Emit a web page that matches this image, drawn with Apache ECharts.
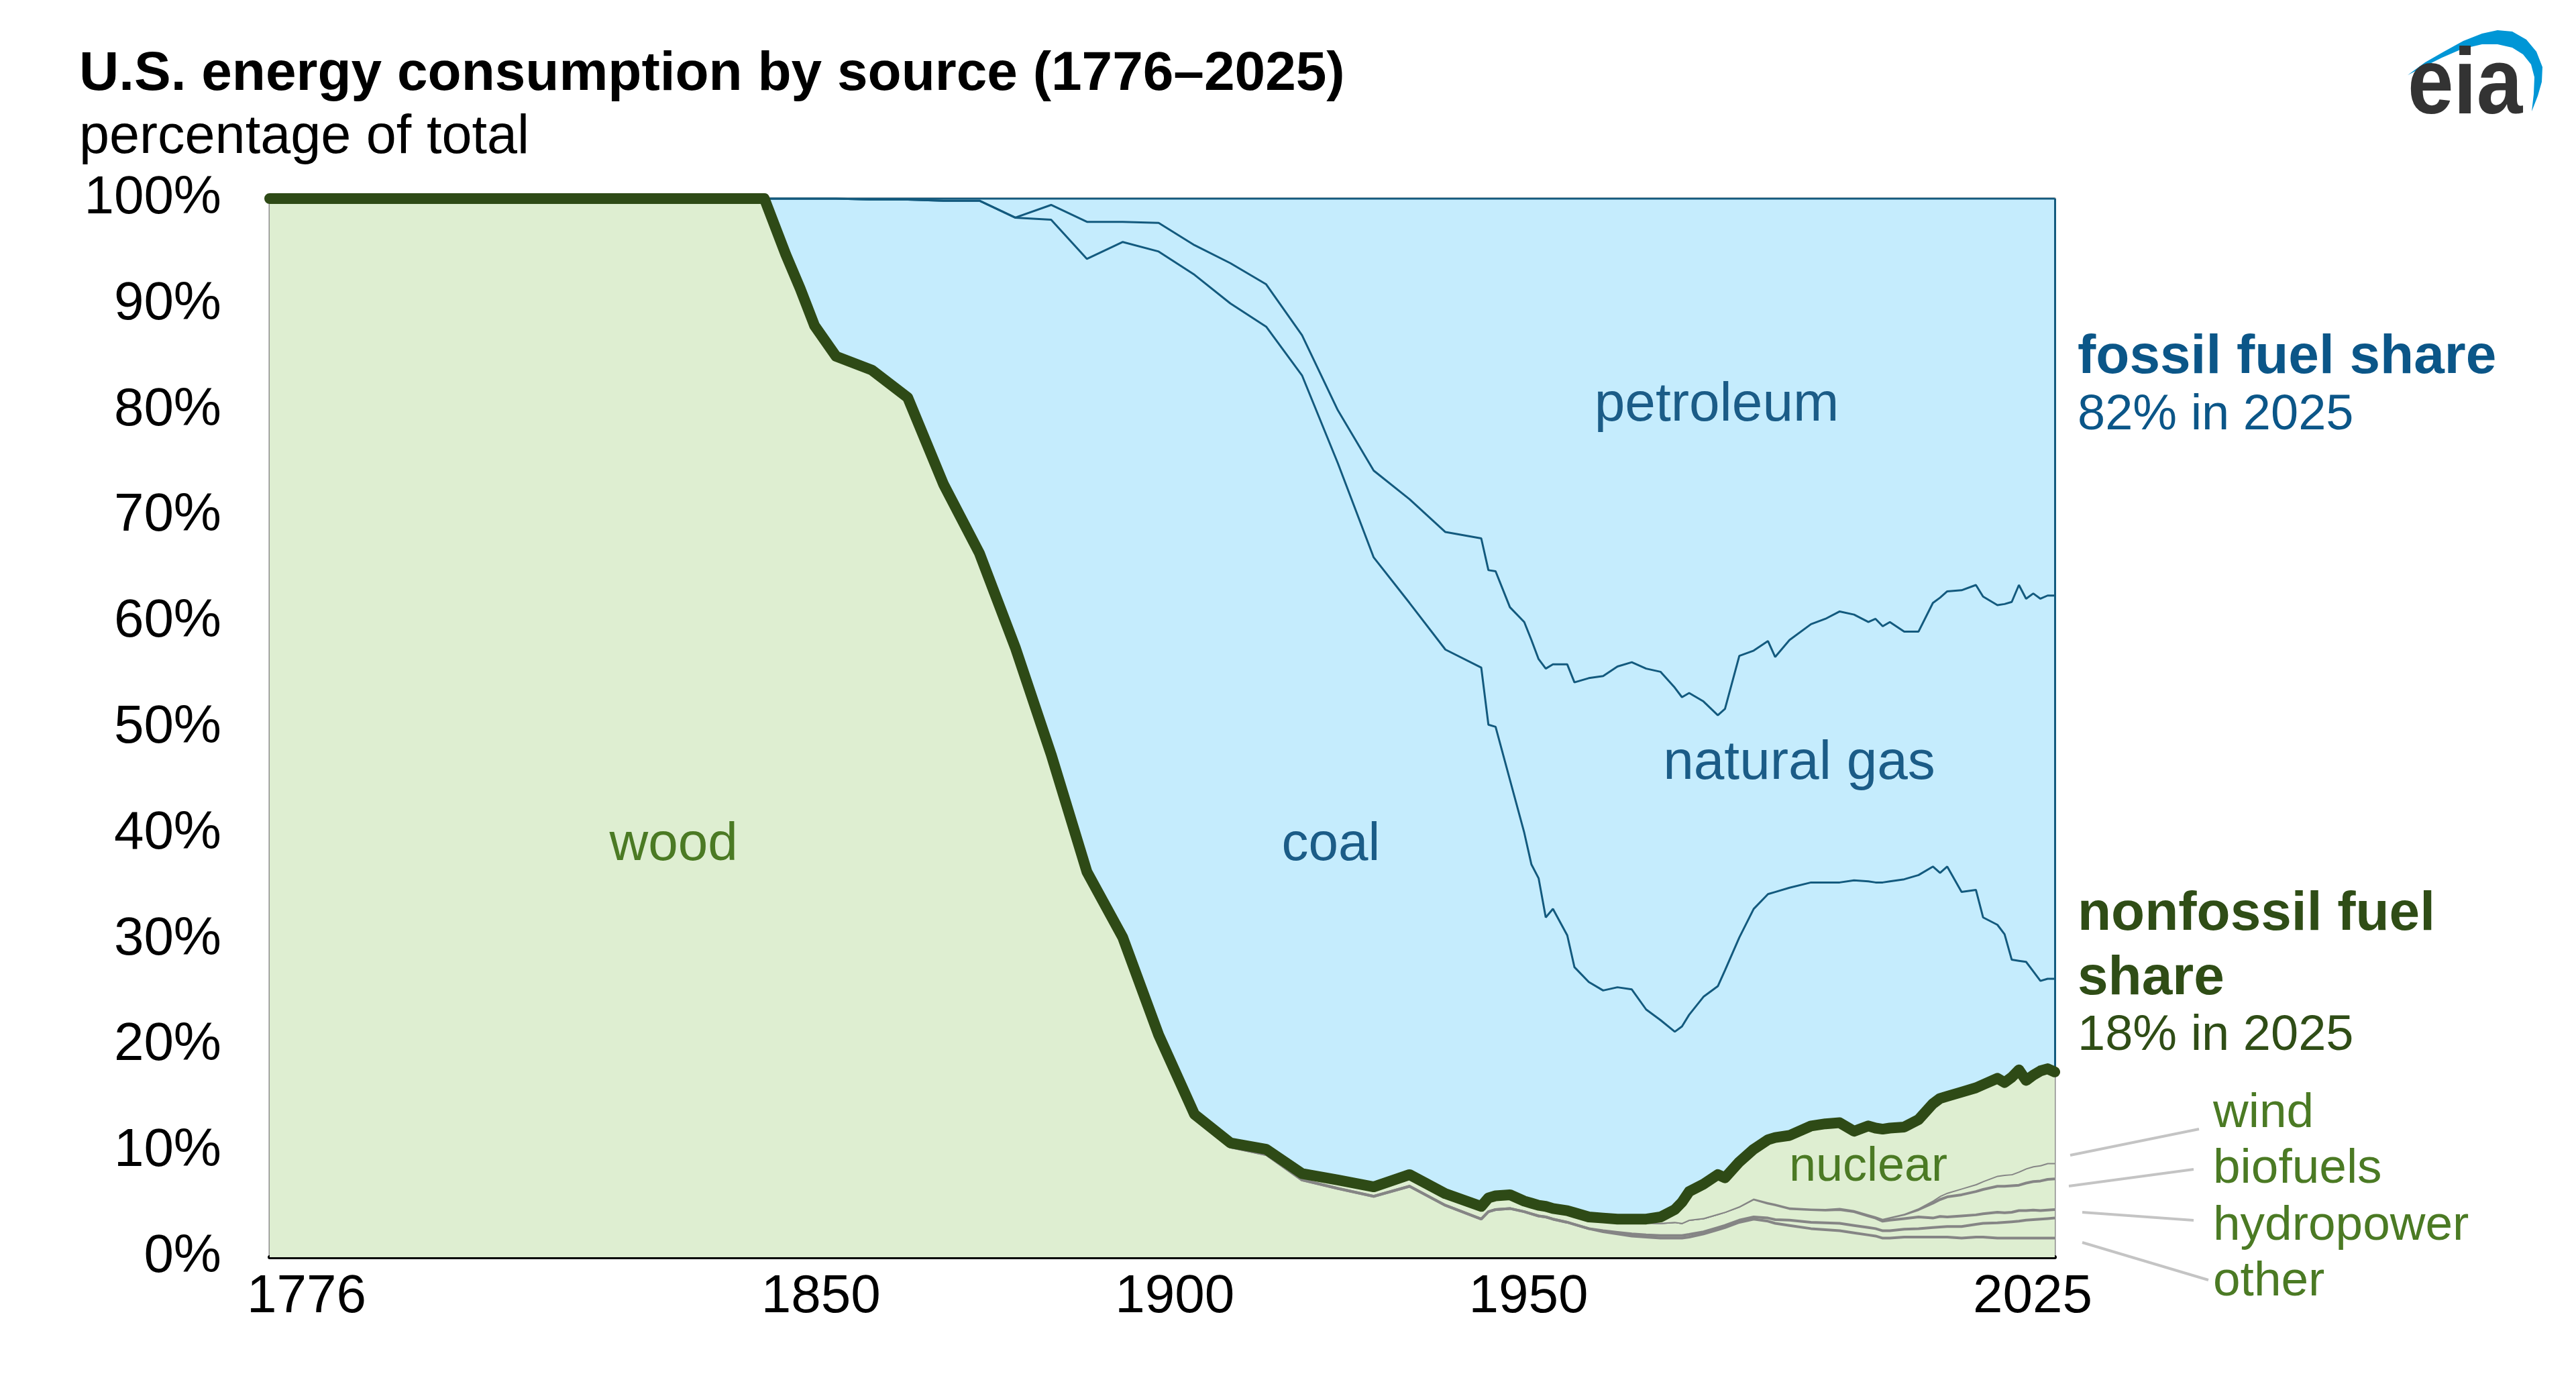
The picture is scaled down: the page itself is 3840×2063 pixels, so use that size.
<!DOCTYPE html>
<html><head><meta charset="utf-8">
<script src="https://cdn.jsdelivr.net/npm/echarts@6/dist/echarts.min.js"></script>
<style>html,body{margin:0;padding:0;background:#fff}#c{width:3840px;height:2063px}</style>
</head><body><div id="c"></div>
<script>
// ---- data (percent of total U.S. primary energy consumption) ----
const YEARS = [1776,1845,1848,1850,1852,1855,1860,1865,1870,1875,1880,1885,1890,1895,1900,1905,1910,1915,1920,1925,1930,1935,1940,1945,1946,1947,1949,1951,1952,1953,1954,1955,1957,1958,1960,1962,1964,1966,1968,1970,1972,1973,1974,1976,1978,1979,1981,1983,1985,1986,1988,1991,1993,1995,1997,1999,2000,2001,2002,2004,2006,2008,2009,2010,2012,2014,2015,2017,2018,2019,2020,2021,2022,2023,2024,2025];
const WOOD = [100,100,94.7,91.5,88,85.1, 83.8,81.2,73,66.5,57.6,47.5,36.4,30.1,20.8,13.2,10.4,9.7,7.3,6.5,5.75,6.7,4.9,3.6, 4.3,4.5,4.6, 4.3,4.1,3.9,3.8,3.6, 3.3,3.1, 2.7,2.4,2.2,2.0,1.9,1.8, 1.8,1.8,1.9, 2.2,2.6,2.8, 3.3,3.6,3.4,3.2,3.0, 2.7,2.6,2.5,2.3,2.1, 2.0,1.8,1.8,1.9,1.9, 1.9,1.9,1.9,1.8,1.9,1.9, 1.8,1.8,1.8,1.8,1.8,1.8,1.8,1.8,1.8];
const OTHER = [0,0,0,0,0,0, 0,0,0,0,0,0,0,0,0,0,0,0,0,0,0,0,0,0, 0,0,0, 0,0,0,0,0, 0,0, 0,0.1,0.15,0.2,0.2,0.25, 0.25,0.25,0.25, 0.2,0.2,0.2, 0.2,0.2,0.3,0.35,0.5, 0.6,0.65,0.7,0.7,0.7, 0.7,0.7,0.7,0.75,0.8, 0.9,0.95,1.0,1.1,1.2,1.3, 1.45,1.5,1.55,1.6,1.7,1.75,1.8,1.85,1.9];
const HYDRO = [0,0,0,0,0,0, 0,0,0,0,0,0,0,0.1,0.2,0.3,0.4,0.5,0.6,0.8,0.9,1.1,1.1,1.2, 1.3,1.3,1.3, 1.0,1.0,1.0,1.0,1.0, 1.1,1.1, 1.05,1.1,1.1,1.2,1.2,1.2, 1.3,1.2,1.4, 1.3,1.3,1.3, 1.3,1.7,1.4,1.4,1.1, 1.2,1.2,1.3,1.3,1.1, 1.0,0.9,1.0,1.0,1.1, 0.9,1.0,0.9,1.0,0.9,0.9, 1.0,0.9,0.9,1.0,0.9,0.9,0.8,0.8,0.8];
const BIOFUELS = [0,0,0,0,0,0, 0,0,0,0,0,0,0,0,0,0,0,0,0,0,0,0,0,0, 0,0,0, 0,0,0,0,0, 0,0, 0,0,0,0,0,0, 0,0,0, 0,0,0, 0.02,0.05,0.1,0.1,0.1, 0.1,0.12,0.15,0.15,0.15, 0.15,0.2,0.25,0.4,0.7, 1.4,1.6,1.9,2.0,2.2,2.3, 2.45,2.5,2.5,2.4,2.6,2.7,2.8,2.9,2.9];
const WIND = [0,0,0,0,0,0, 0,0,0,0,0,0,0,0,0,0,0,0,0,0,0,0,0,0, 0,0,0, 0,0,0,0,0, 0,0, 0,0,0,0,0,0, 0,0,0, 0,0,0, 0,0,0,0,0, 0,0,0,0,0, 0.02,0.03,0.04,0.06,0.12, 0.25,0.35,0.4,0.6,0.7,0.8, 1.0,1.1,1.1,1.3,1.4,1.45,1.5,1.55,1.5];
const NUCLEAR = [0,0,0,0,0,0, 0,0,0,0,0,0,0,0,0,0,0,0,0,0,0,0,0,0, 0,0,0, 0,0,0,0,0, 0,0, 0.05,0.1,0.15,0.2,0.3,0.55, 1.15,1.95,2.65, 3.2,3.7,3.2, 4.18,4.65,5.9,6.25,6.8, 7.8,8.03,8.05,7.45,8.35, 8.33,8.47,8.41,8.19,8.38, 9.15,9.2,9.1,9.1,9.1,9.1, 9.2,8.7,9.15,9.6,8.3,8.6,8.9,8.9,8.6];
const COAL = [0,0,5.3,8.5,12,14.9, 16.1,18.7,26.8,33.3,40.6,50.5,57.9,65.7,74,79.3,79.3,77.7,75.4,67.7,59.45,54.0,51.4,50.9, 44.7,44.3,39.2, 34.8,32.0,30.9,27.3,28.3, 26.0,23.2, 22.2,21.5,21.9,21.7,19.8,18.6, 16.8,16.6,16.7, 17.7,17.8,19.6, 21.2,22.7,23.2,23.2,23.4, 23.0,22.8,22.7,23.7,23.1, 23.2,23.3,23.3,23.4,23.1, 22.4,21.3,21.7,18.9,18.7,15.8, 14.5,14.0,11.1,10.3,11.2,9.8,8.5,8.5,8.8];
const NATURAL_GAS = [0,0,0,0,0,0, 0,0,0,0,0,1.4,3.5,1.9,2.7,2.8,3.8,4.0,3.8,5.0,8.2,9.8,11.1,12.2, 14.6,14.7,16.3, 19.9,21.2,20.7,23.5,23.1, 25.6,26.9, 28.7,29.7,30.3,30.9,32.2,32.9, 32.5,31.1,30.4, 27.9,25.6,24.7, 26.6,24.4,23.9,22.2,23.4, 24.4,24.9,25.6,25.1,24.5, 24.9,24.2,24.5,23.4,23.0, 24.9,26.0,26.0,28.5,28.8,30.3, 30.2,31.2,33.8,35.5,34.3,35.7,36.1,36.2,36.2];
const PETROLEUM = [0,0,0,0,0,0, 0.1,0.1,0.2,0.2,1.8,0.6,2.2,2.2,2.3,4.4,6.1,8.1,12.9,20,25.7,28.4,31.5,32.1, 35.1,35.2,38.6, 40,41.7,43.5,44.4,44, 44,45.7, 45.3,45.1,44.2,43.8,44.4,44.7, 46.2,47.1,46.7, 47.5,48.8,48.2, 43.2,42.7,41.8,43.3,41.7, 40.2,39.7,39.0,39.3,40.0, 39.7,40.4,40.0,40.9,40.9, 38.2,37.7,37.1,37.0,36.5,37.6, 38.4,38.3,38.1,36.5,37.8,37.3,37.8,37.5,37.5];
const X_TICKS = [1776, 1850, 1900, 1950, 2025];
const Y_MIN = 0, Y_MAX = 100, Y_STEP = 10;

// ---- chart ----
const FONT = '"Liberation Sans", Arial, Helvetica, sans-serif';
const GREEN_FILL = '#deeed1', BLUE_FILL = '#c5ecfd', GRAY = '#858585', DKGREEN = '#2e4a16', DKBLUE = '#135a7e';
const TXT_BLUE = '#1b5c87', TXT_GREEN = '#4b7a24', HEAD_BLUE = '#0b5688', HEAD_GREEN = '#2f4d16';
// value first, year second: the share dimension is the one that gets stacked
const pairs = arr => YEARS.map((y, i) => [arr[i], y]);
const last = YEARS.length - 1;
const nfLast = WOOD[last] + OTHER[last] + HYDRO[last] + BIOFUELS[last] + WIND[last] + NUCLEAR[last];

function areaSeries(name, arr, fill, line, z, extra) {
  return Object.assign({
    type: 'line', name, stack: 'total', data: pairs(arr),
    dimensions: ['share', 'year'], encode: { x: 1, y: 0 },
    showSymbol: false, symbol: 'none',
    areaStyle: { color: fill, opacity: 1 }, lineStyle: Object.assign({}, line), z, silent: true, animation: false
  }, extra || {});
}
const grayLine = { color: GRAY, width: 4 };
const blueLine = { color: DKBLUE, width: 3 };

// label shift (px) to reproduce reference label placement
const X_SHIFT = { 1776: 55, 1850: 31, 1900: 24, 1950: 17, 2025: -33 };
const rich = {};
X_TICKS.forEach(v => {
  const s = X_SHIFT[v] || 0;
  rich['t' + v] = { fontSize: 80, fontFamily: FONT, color: '#000',
    padding: s >= 0 ? [0, 0, 0, 2 * s] : [0, -2 * s, 0, 0] };
});

function txt(text, x, y, size, color, weight, align) {
  return { type: 'text', x, y, silent: true, z: 100,
    style: { text, fontSize: size, fontFamily: FONT, fontWeight: weight || 'normal', fill: color,
      align: align || 'left', verticalAlign: 'middle', textAlign: align || 'left', textVerticalAlign: 'middle' } };
}
function lead(x1, y1, x2, y2) {
  return { type: 'line', silent: true, z: 100, shape: { x1, y1, x2, y2 }, style: { stroke: '#c4c4c4', lineWidth: 4 } };
}

const option = {
  backgroundColor: '#fff',
  animation: false,
  grid: { left: 402, right: 777, top: 296, bottom: 189, show: true, borderColor: '#8c8c8c', borderWidth: 3, backgroundColor: 'transparent' },
  xAxis: {
    type: 'value', min: 1776, max: 2025,
    axisLine: { show: true, onZero: false, lineStyle: { color: '#000', width: 6 } },
    axisTick: { show: false },
    splitLine: { show: false },
    axisLabel: {
      customValues: X_TICKS, showMinLabel: true, showMaxLabel: true, margin: 20,
      fontSize: 80, fontFamily: FONT, color: '#000',
      formatter: v => '{t' + v + '|' + v + '}', rich
    }
  },
  yAxis: {
    type: 'value', min: Y_MIN, max: Y_MAX, interval: Y_STEP,
    axisLine: { show: false }, axisTick: { show: false }, splitLine: { show: false },
    axisLabel: { formatter: '{value}%', fontSize: 80, fontFamily: FONT, color: '#000', margin: 72 }
  },
  series: [
    areaSeries('wood', WOOD, GREEN_FILL, grayLine, 2),
    areaSeries('other', OTHER, GREEN_FILL, grayLine, 2),
    areaSeries('hydropower', HYDRO, GREEN_FILL, grayLine, 2),
    areaSeries('biofuels', BIOFUELS, GREEN_FILL, grayLine, 2),
    areaSeries('wind', WIND, GREEN_FILL, grayLine, 2),
    areaSeries('nuclear', NUCLEAR, GREEN_FILL, { color: DKGREEN, width: 16, join: 'round', cap: 'round' }, 6),
    areaSeries('coal', COAL, BLUE_FILL, blueLine, 3),
    areaSeries('natural gas', NATURAL_GAS, BLUE_FILL, blueLine, 3),
    areaSeries('petroleum', PETROLEUM, BLUE_FILL, blueLine, 3, {
      markLine: { silent: true, symbol: 'none', label: { show: false },
        lineStyle: { color: DKBLUE, width: 3, type: 'solid' },
        data: [[{ coord: [YEARS[last], 100] }, { coord: [YEARS[last], nfLast] }]] }
    })
  ],
  graphic: [
    txt('U.S. energy consumption by source (1776\u20132025)', 118, 111, 82, '#000', 'bold'),
    txt('percentage of total', 118, 206, 81, '#000'),
    txt('wood', 1004, 1260, 80, TXT_GREEN, 'normal', 'center'),
    txt('coal', 1984, 1260, 80, TXT_BLUE, 'normal', 'center'),
    txt('petroleum', 2559, 604, 82, TXT_BLUE, 'normal', 'center'),
    txt('natural gas', 2682, 1138, 82, TXT_BLUE, 'normal', 'center'),
    txt('nuclear', 2785, 1740, 72, TXT_GREEN, 'normal', 'center'),
    txt('fossil fuel share', 3097, 533, 82, HEAD_BLUE, 'bold'),
    txt('82% in 2025', 3097, 620, 74, HEAD_BLUE),
    txt('nonfossil fuel', 3097, 1363, 82, HEAD_GREEN, 'bold'),
    txt('share', 3097, 1459, 82, HEAD_GREEN, 'bold'),
    txt('18% in 2025', 3097, 1545, 74, HEAD_GREEN),
    txt('wind', 3299, 1660, 73, TXT_GREEN),
    txt('biofuels', 3299, 1743, 73, TXT_GREEN),
    txt('hydropower', 3299, 1828, 73, TXT_GREEN),
    txt('other', 3299, 1911, 73, TXT_GREEN),
    lead(3086, 1722, 3278, 1683),
    lead(3084, 1768, 3270, 1743),
    lead(3104, 1807, 3270, 1819),
    lead(3104, 1852, 3292, 1908),
    { type: 'polygon', silent: true, z: 100,
      shape: { points: [[3589,112],[3615,93],[3643,77],[3672,61],[3700,50],[3723,45],[3745,47],[3766,59],[3781,77],[3790,100],[3789,122],[3783,143],[3774,166],
                        [3777,140],[3778,115],[3773,96],[3761,81],[3745,71],[3723,66],[3700,66],[3670,73],[3640,86],[3612,100]] },
      style: { fill: '#0096d6' } },
    { type: 'text', x: 3589, y: 200, scaleX: 0.88, silent: true, z: 100,
      style: { text: 'eia', fontSize: 140, fontWeight: 'bold', fontFamily: FONT, fill: '#333',
        align: 'left', verticalAlign: 'bottom', textAlign: 'left', textVerticalAlign: 'bottom' } }
  ]
};
const chart = echarts.init(document.getElementById('c'), null, { renderer: 'canvas' });
chart.setOption(option);
</script>
</body></html>
